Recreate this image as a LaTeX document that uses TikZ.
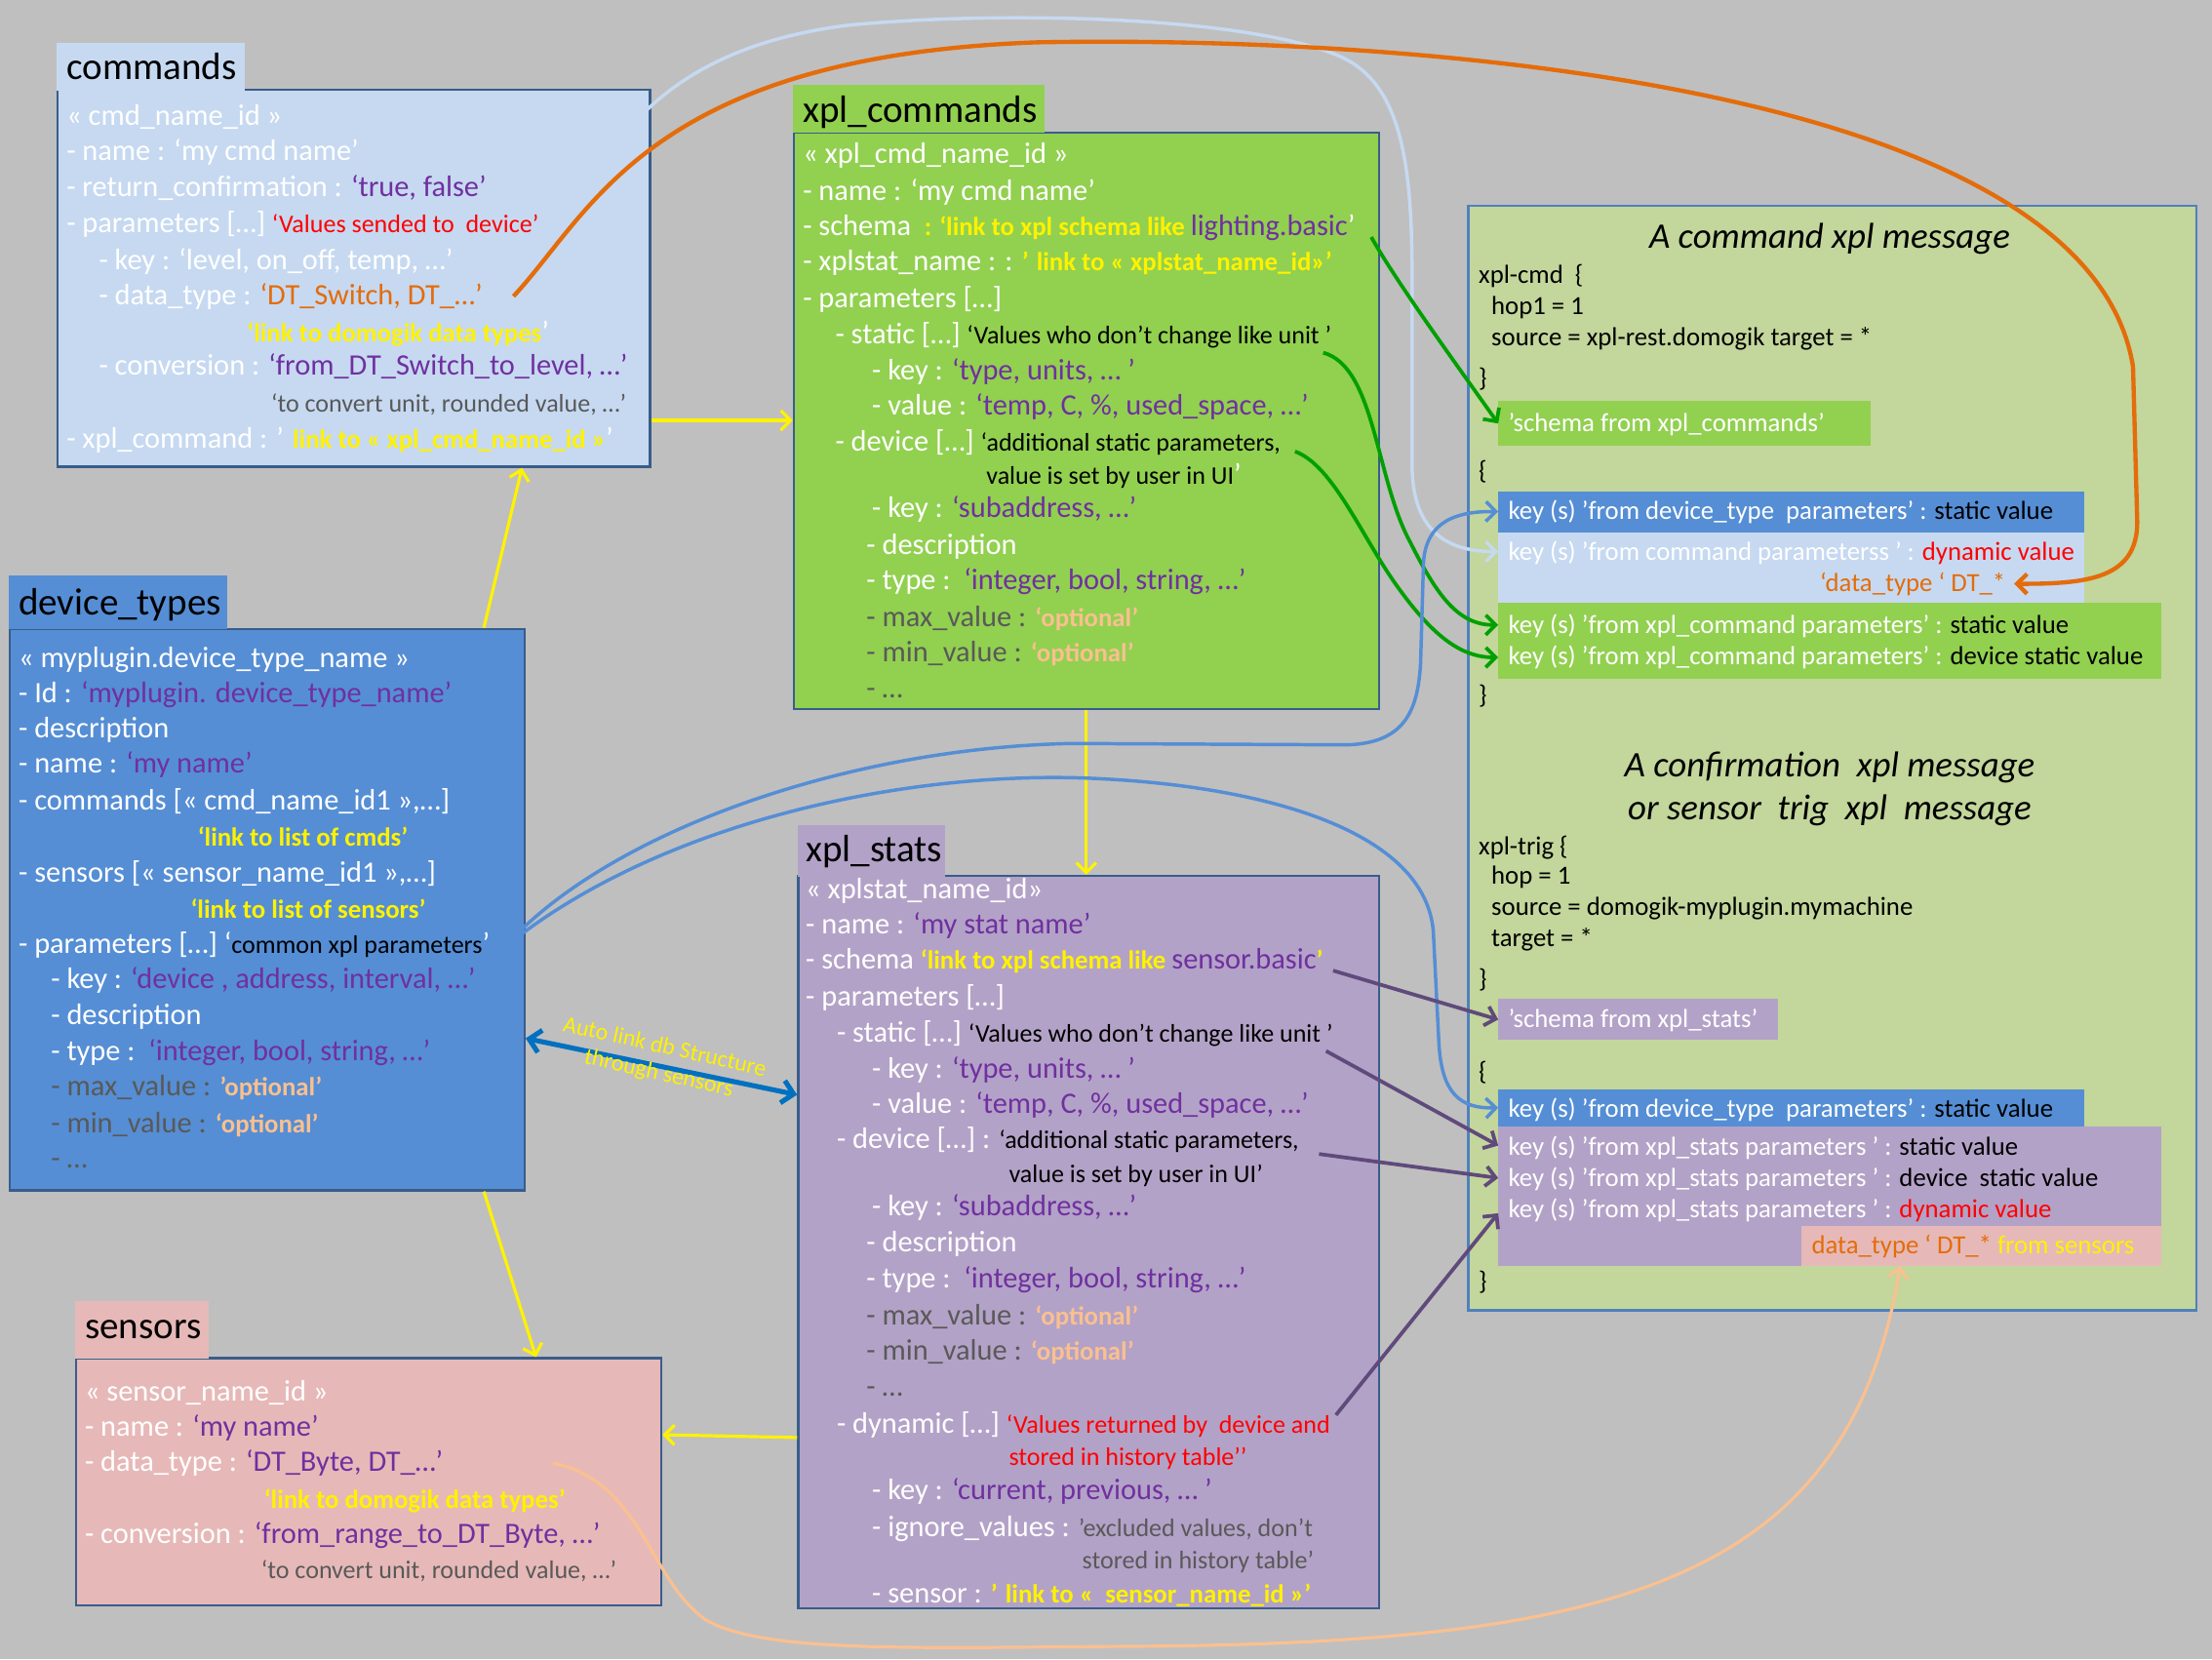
\documentclass[tikz,border=0pt]{standalone}
\usepackage{fontspec}
\setmainfont{Carlito}
\usetikzlibrary{arrows.meta}

\definecolor{bg}{HTML}{BFBFBF}
\definecolor{frame}{HTML}{385D8A}
\definecolor{msgframe}{HTML}{4F81BD}
\definecolor{cmdfill}{HTML}{C6D9F1}
\definecolor{xplgreen}{HTML}{92D050}
\definecolor{devblue}{HTML}{558ED5}
\definecolor{sensorpink}{HTML}{E6B9B8}
\definecolor{statpurple}{HTML}{B3A2C7}
\definecolor{msggreen}{HTML}{C3D69B}
\definecolor{valpurple}{HTML}{7030A0}
\definecolor{dtorange}{HTML}{E46C0A}
\definecolor{notegray}{HTML}{595959}
\definecolor{optpeach}{HTML}{FAC090}
\definecolor{linkgreen}{HTML}{00A000}
\definecolor{linkpurple}{HTML}{604A7B}
\definecolor{autoblue}{HTML}{0070C0}

% font sizes (units of the drawing)
\newcommand\fsBody{\fontsize{21}{25}\selectfont}
\newcommand\fsNote{\fontsize{18}{22}\selectfont}
\newcommand\fsLink{\fontsize{18.5}{22}\selectfont\bfseries}
\newcommand\fsMsg{\fontsize{18.5}{22}\selectfont}

% coloured text pieces
\newcommand\tw[1]{\textcolor{white}{#1}}
\newcommand\tv[1]{\textcolor{valpurple}{#1}}
\newcommand\tor[1]{\textcolor{dtorange}{#1}}
\newcommand\tg[1]{\textcolor{notegray}{#1}}
\newcommand\tlink[1]{{\fsLink\color{yellow}#1}}
\newcommand\tred[1]{{\fsNote\color{red}#1}}
\newcommand\tblk[1]{{\fsNote\color{black}#1}}
\newcommand\tgry[1]{{\fsNote\color{notegray}#1}}
\newcommand\topt[1]{{\fsLink\color{optpeach}#1}}

\tikzset{
  ln/.style={anchor=base west, inner sep=0pt, font=\fsBody},
  ttl/.style={anchor=base west, inner sep=0pt, font=\fontsize{27}{32}\selectfont},
  msg/.style={anchor=base west, inner sep=0pt, font=\fsMsg},
  head/.style={anchor=base, inner sep=0pt, font=\fontsize{25.5}{30}\selectfont\itshape},
  table/.style={draw=frame, line width=1.6pt, anchor=north west, inner sep=0pt},
  tabfill/.style={anchor=north west, inner sep=0pt},
  sub/.style={anchor=north west, inner sep=0pt},
  tip/.style={-{Straight Barb[length=7pt,width=14pt]}},
  ya/.style={draw=yellow, line width=2.2pt, tip},
  gc/.style={draw=linkgreen, line width=2.6pt, tip},
  pc/.style={draw=linkpurple, line width=2.6pt, tip},
  bc/.style={draw=devblue, line width=2.4pt, tip},
  lbc/.style={draw=cmdfill, line width=2.4pt, tip},
  orc/.style={draw=dtorange, line width=3pt, tip},
  pkc/.style={draw=optpeach, line width=2.2pt, tip},
  dbl/.style={draw=autoblue, line width=3.5pt,
    {Straight Barb[length=8pt,width=16pt]}-{Straight Barb[length=8pt,width=16pt]}},
}

\begin{document}
\begin{tikzpicture}[x=1pt,y=-1pt]
\useasboundingbox (0,0) rectangle (1568,1176);
\fill[bg] (0,0) rectangle (1568,1176);

% ---------------- tables ----------------
\node[table, fill=cmdfill, minimum width=420pt, minimum height=267pt] (cmdbox) at (40,63) {};
\node[tabfill, fill=cmdfill, minimum width=133pt, minimum height=34pt] (cmdtab) at (40,30) {};

\node[table, fill=xplgreen, minimum width=415pt, minimum height=409pt] (xcbox) at (562,93) {};
\node[tabfill, fill=xplgreen, minimum width=178pt, minimum height=34pt] (xctab) at (562,60) {};

\node[table, fill=devblue, minimum width=365pt, minimum height=398pt] (dtbox) at (6,445) {};
\node[tabfill, fill=devblue, minimum width=155pt, minimum height=38pt] (dttab) at (6,408) {};

\node[table, fill=sensorpink, minimum width=415pt, minimum height=175pt] (snbox) at (53,962) {};
\node[tabfill, fill=sensorpink, minimum width=95pt, minimum height=41pt] (sntab) at (53,922) {};

\node[table, fill=statpurple, minimum width=412pt, minimum height=519pt] (xsbox) at (565,620) {};
\node[tabfill, fill=statpurple, minimum width=105pt, minimum height=36pt] (xstab) at (565,585) {};

\node[table, draw=msgframe, fill=msggreen, minimum width=516pt, minimum height=783pt] (msgbox) at (1040,145) {};

% ---------------- commands ----------------
\node[ttl] (cmdtitle) at (47,56.5) {commands};
\node[ln] (cmd1) at (47,89) {\tw{« cmd\_name\_id »}};
\node[ln] (cmd2) at (47,114) {\tw{- name : ‘my cmd name’}};
\node[ln] (cmd3) at (47,139) {\tw{- return\_confirmation : }\tv{‘true, false’}};
\node[ln] (cmd4) at (47,165) {\tw{- parameters […] }\tred{‘Values sended to\ \ device’}};
\node[ln] (cmd5) at (70,191) {\tw{- key : ‘level, on\_off, temp, …’}};
\node[ln] (cmd6) at (70,216) {\tw{- data\_type : }\tor{‘DT\_Switch, DT\_…’}};
\node[ln] (cmd7) at (175,242) {\tlink{‘link to domogik data types}\tw{’}};
\node[ln] (cmd8) at (70,266) {\tw{- conversion : }\tv{‘from\_DT\_Switch\_to\_level, …’}};
\node[ln] (cmd9) at (192,292) {\tgry{‘to convert unit, rounded value, …’}};
\node[ln] (cmd10) at (47,318) {\tw{- xpl\_command : ’ }\tlink{link to « xpl\_cmd\_name\_id »}\tw{’}};

% ---------------- xpl_commands ----------------
\node[ttl] (xctitle) at (569,87) {xpl\_commands};
\node[ln] (xc1) at (569,116) {\tw{« xpl\_cmd\_name\_id »}};
\node[ln] (xc2) at (569,142) {\tw{- name : ‘my cmd name’}};
\node[ln] (xc3) at (569,167) {\tw{- schema\ \ }\tlink{: ‘link to xpl schema like }\tv{lighting.basic}\tw{’}};
\node[ln] (xc4) at (569,192) {\tw{- xplstat\_name : : }\tlink{’ link to « xplstat\_name\_id»’}};
\node[ln] (xc5) at (569,218) {\tw{- parameters […]}};
\node[ln] (xc6) at (592,244) {\tw{- static […] }\tblk{‘Values who don’t change like unit ’}};
\node[ln] (xc7) at (618,269) {\tw{- key : }\tv{‘type, units, … ’}};
\node[ln] (xc8) at (618,294) {\tw{- value : }\tv{‘temp, C, \%, used\_space, …’}};
\node[ln] (xc9) at (592,320) {\tw{- device […] }\tblk{‘additional static parameters,}};
\node[ln] (xc10) at (699,343) {\tblk{value is set by user in UI}\tw{’}};
\node[ln] (xc11) at (618,367) {\tw{- key : }\tv{‘subaddress, …’}};
\node[ln] (xc12) at (614,393) {\tw{- description}};
\node[ln] (xc13) at (614,418) {\tw{- type :\ \ }\tv{‘integer, bool, string, …’}};
\node[ln] (xc14) at (614,444) {\tg{- max\_value : }\topt{‘optional’}};
\node[ln] (xc15) at (614,469) {\tg{- min\_value : }\topt{‘optional’}};
\node[ln] (xc16) at (614,495) {\tg{- …}};

% ---------------- device_types ----------------
\node[ttl] (dttitle) at (13,436) {device\_types};
\node[ln] (dt1) at (13,473) {\tw{« myplugin.device\_type\_name »}};
\node[ln] (dt2) at (13,498) {\tw{- Id : }\tv{‘myplugin. device\_type\_name’}};
\node[ln] (dt3) at (13,523) {\tw{- description}};
\node[ln] (dt4) at (13,548) {\tw{- name : }\tv{‘my name’}};
\node[ln] (dt5) at (13,574) {\tw{- commands [« cmd\_name\_id1 »,…]}};
\node[ln] (dt6) at (140,600) {\tlink{‘link to list of cmds’}};
\node[ln] (dt7) at (13,625) {\tw{- sensors [« sensor\_name\_id1 »,…]}};
\node[ln] (dt8) at (135,651) {\tlink{‘link to list of sensors’}};
\node[ln] (dt9) at (13,676) {\tw{- parameters […] ‘}\tblk{common xpl parameters}\tw{’}};
\node[ln] (dt10) at (36,701) {\tw{- key : }\tv{‘device , address, interval, …’}};
\node[ln] (dt11) at (36,726) {\tw{- description}};
\node[ln] (dt12) at (36,752) {\tw{- type :\ \ }\tv{‘integer, bool, string, …’}};
\node[ln] (dt13) at (36,777) {\tg{- max\_value : }\topt{’optional’}};
\node[ln] (dt14) at (36,803) {\tg{- min\_value : }\topt{‘optional’}};
\node[ln] (dt15) at (36,828) {\tg{- …}};

% ---------------- sensors ----------------
\node[ttl] (sntitle) at (60,949) {sensors};
\node[ln] (sn1) at (60,993) {\tw{« sensor\_name\_id »}};
\node[ln] (sn2) at (60,1018) {\tw{- name : }\tv{‘my name’}};
\node[ln] (sn3) at (60,1043) {\tw{- data\_type : }\tv{‘DT\_Byte, DT\_…’}};
\node[ln] (sn4) at (187,1069) {\tlink{‘link to domogik data types’}};
\node[ln] (sn5) at (60,1094) {\tw{- conversion : }\tv{‘from\_range\_to\_DT\_Byte, …’}};
\node[ln] (sn6) at (185,1119) {\tgry{‘to convert unit, rounded value, …’}};

% ---------------- xpl_stats ----------------
\node[ttl] (xstitle) at (571,611) {xpl\_stats};
\node[ln] (xs1) at (571,637) {\tw{« xplstat\_name\_id»}};
\node[ln] (xs2) at (571,662) {\tw{- name : }\tv{‘my stat name’}};
\node[ln] (xs3) at (571,687) {\tw{- schema }\tlink{‘link to xpl schema like }\tv{sensor.basic}\tlink{’}};
\node[ln] (xs4) at (571,713) {\tw{- parameters […]}};
\node[ln] (xs5) at (593,739) {\tw{- static […] }\tblk{‘Values who don’t change like unit ’}};
\node[ln] (xs6) at (618,764) {\tw{- key : }\tv{‘type, units, … ’}};
\node[ln] (xs7) at (618,789) {\tw{- value : }\tv{‘temp, C, \%, used\_space, …’}};
\node[ln] (xs8) at (593,814) {\tw{- device […] : }\tblk{‘additional static parameters,}};
\node[ln] (xs9) at (715,838) {\tblk{value is set by user in UI’}};
\node[ln] (xs10) at (618,862) {\tw{- key : }\tv{‘subaddress, …’}};
\node[ln] (xs11) at (614,887) {\tw{- description}};
\node[ln] (xs12) at (614,913) {\tw{- type :\ \ }\tv{‘integer, bool, string, …’}};
\node[ln] (xs13) at (614,939) {\tg{- max\_value : }\topt{‘optional’}};
\node[ln] (xs14) at (614,964) {\tg{- min\_value : }\topt{‘optional’}};
\node[ln] (xs15) at (614,990) {\tg{- …}};
\node[ln] (xs16) at (593,1016) {\tw{- dynamic […] }\tred{‘Values returned by\ \ device and}};
\node[ln] (xs17) at (715,1039) {\tred{stored in history table’’}};
\node[ln] (xs18) at (618,1063) {\tw{- key : }\tv{‘current, previous, … ’}};
\node[ln] (xs19) at (618,1089) {\tw{- ignore\_values : }\tgry{’excluded values, don’t}};
\node[ln] (xs20) at (767,1112) {\tgry{stored in history table’}};
\node[ln] (xs21) at (618,1136) {\tw{- sensor : }\tlink{’ link to «\ \ sensor\_name\_id »’}};

% ---------------- xPL messages ----------------
\node[head] (mhA) at (1297,176) {A command xpl message};
\node[msg] (mA1) at (1048,201) {xpl-cmd\ \ \{};
\node[msg] (mA2) at (1057,223) {hop1 = 1};
\node[msg] (mA3) at (1057,245) {source = xpl-rest.domogik target = *};
\node[msg] (mA4) at (1048,274) {\}};
\node[sub, fill=xplgreen, minimum width=264pt, minimum height=32pt] (schemaA) at (1062,284) {};
\node[msg] (mA5) at (1069,306) {\tw{’schema from xpl\_commands’}};
\node[msg] (mA6) at (1048,340) {\{};
\node[sub, fill=devblue, minimum width=415pt, minimum height=29pt] (devA) at (1062,348) {};
\node[msg] (mA7) at (1069,368) {\tw{key (s) ’from device\_type\ \ parameters’ : }static value};
\node[sub, fill=cmdfill, minimum width=415pt, minimum height=50pt] (cparA) at (1062,377) {};
\node[msg] (mA8) at (1069,397) {\tw{key (s) ’from command parameterss ’ : }\textcolor{red}{dynamic value}};
\node[msg] (mA9) at (1290,419) {\tor{‘data\_type ‘ DT\_*}};
\node[sub, fill=xplgreen, minimum width=470pt, minimum height=54pt] (xparA) at (1062,427) {};
\node[msg] (mA10) at (1069,449) {\tw{key (s) ’from xpl\_command parameters’ : }static value};
\node[msg] (mA11) at (1069,471) {\tw{key (s) ’from xpl\_command parameters’ : }device static value};
\node[msg] (mA12) at (1048,499) {\}};

\node[head] (mhB1) at (1297,551) {A confirmation\ \ xpl message};
\node[head] (mhB2) at (1297,581) {or sensor\ \ trig\ \ xpl\ \ message};
\node[msg] (mB1) at (1048,606) {xpl-trig \{};
\node[msg] (mB2) at (1057,627) {hop = 1};
\node[msg] (mB3) at (1057,649) {source = domogik-myplugin.mymachine};
\node[msg] (mB4) at (1057,671) {target = *};
\node[msg] (mB5) at (1048,700) {\}};
\node[sub, fill=statpurple, minimum width=198pt, minimum height=29pt] (schemaB) at (1062,708) {};
\node[msg] (mB6) at (1069,728) {\tw{’schema from xpl\_stats’}};
\node[msg] (mB7) at (1048,766) {\{};
\node[sub, fill=devblue, minimum width=415pt, minimum height=26pt] (devB) at (1062,772) {};
\node[msg] (mB8) at (1069,792) {\tw{key (s) ’from device\_type\ \ parameters’ : }static value};
\node[sub, fill=statpurple, minimum width=470pt, minimum height=99pt] (xsparB) at (1062,798) {};
\node[msg] (mB9) at (1069,819) {\tw{key (s) ’from xpl\_stats parameters ’ : }static value};
\node[msg] (mB10) at (1069,841) {\tw{key (s) ’from xpl\_stats parameters ’ : }device\ \ static value};
\node[msg] (mB11) at (1069,863) {\tw{key (s) ’from xpl\_stats parameters ’ : }\textcolor{red}{dynamic value}};
\node[sub, fill=sensorpink, minimum width=255pt, minimum height=28pt] (dtB) at (1277,869) {};
\node[msg] (mB12) at (1284,889) {\tor{data\_type ‘ DT\_* }\textcolor{yellow}{from sensors}};
\node[msg] (mB13) at (1048,914) {\}};

% ---------------- connectors ----------------
% yellow links between tables
\draw[ya] (cmdbox.east |- 0,298) -- (xcbox.west |- 0,298);
\draw[ya] (dtbox.north -| 343,0) -- (cmdbox.south -| 370,0);
\draw[ya] (dtbox.south -| 343,0) -- (snbox.north -| 380,0);
\draw[ya] (xcbox.south -| 770,0) -- (xsbox.north -| 770,0);
\draw[ya] (xsbox.west |- 0,1019) -- (snbox.east |- 0,1017);

% auto link device_types <-> xpl_stats
\draw[dbl] (dtbox.east |- 0,736) -- (xsbox.west |- 0,776);
\node[rotate=-12.6, align=center, text=yellow, inner sep=0pt,
      font=\fontsize{16.5}{19}\selectfont] (autolbl) at (469,752)
  {Auto link db Structure\\through sensors};

% start points of the curved links
\coordinate (lbs) at (402,156);
\coordinate (ors) at (364,210);
\coordinate (g1s) at (972,168);
\coordinate (g2s) at (938,250);
\coordinate (g3s) at (918,320);
\coordinate (p1s) at (945,688);
\coordinate (p2s) at (940,745);
\coordinate (p3s) at (935,818);
\coordinate (p4s) at (947,1003);
\coordinate (bs) at (357,672);
\coordinate (pks) at (392,1037);

% command parameters -> xpl-cmd message
\draw[lbc] (lbs) .. controls (435,100) and (470,35) .. (600,18)
  .. controls (700,8) and (880,10) .. (950,40)
  .. controls (995,60) and (1001,120) .. (1001,200) -- (1001,330)
  .. controls (1001,380) and (1030,391) .. (cparA.west |- 0,391);
\draw[orc] (ors) .. controls (420,150) and (460,40) .. (735,30)
  .. controls (1000,25) and (1480,60) .. (1512,260) -- (1515,370)
  .. controls (1515,410) and (1480,414) .. ([xshift=6pt]mA9.east);

% xpl_commands -> xpl-cmd message
\draw[gc] (g1s) .. controls (990,200) and (1030,255) .. (schemaA.west);
\draw[gc] (g2s) .. controls (975,260) and (975,340) .. (1000,385)
  .. controls (1020,425) and (1035,443) .. (xparA.west |- 0,443);
\draw[gc] (g3s) .. controls (945,330) and (965,380) .. (990,415)
  .. controls (1015,450) and (1035,466) .. (xparA.west |- 0,466);

% device_types parameters -> both messages
\draw[bc] (bs) .. controls (430,590) and (600,530) .. (760,527) -- (954,528)
  .. controls (995,527) and (1005,505) .. (1007,470) -- (1009,400)
  .. controls (1010,375) and (1025,362) .. (devA.west);
\draw[bc] (bs) .. controls (470,580) and (650,545) .. (780,552)
  .. controls (900,558) and (1010,590) .. (1016,660) -- (1020,740)
  .. controls (1022,775) and (1035,786) .. (devB.west);

% xpl_stats -> xpl-trig message
\draw[pc] (p1s) -- (schemaB.west);
\draw[pc] (p2s) -- (xsparB.west |- 0,812);
\draw[pc] (p3s) -- (xsparB.west |- 0,835);
\draw[pc] (p4s) -- (xsparB.west |- 0,860);

% sensors data type -> trig message
\draw[pkc] (pks) .. controls (455,1050) and (460,1120) .. (500,1148)
  .. controls (540,1172) and (650,1168) .. (800,1167)
  .. controls (1150,1165) and (1310,1120) .. (dtB.south -| 1347,0);
\end{tikzpicture}
\end{document}
